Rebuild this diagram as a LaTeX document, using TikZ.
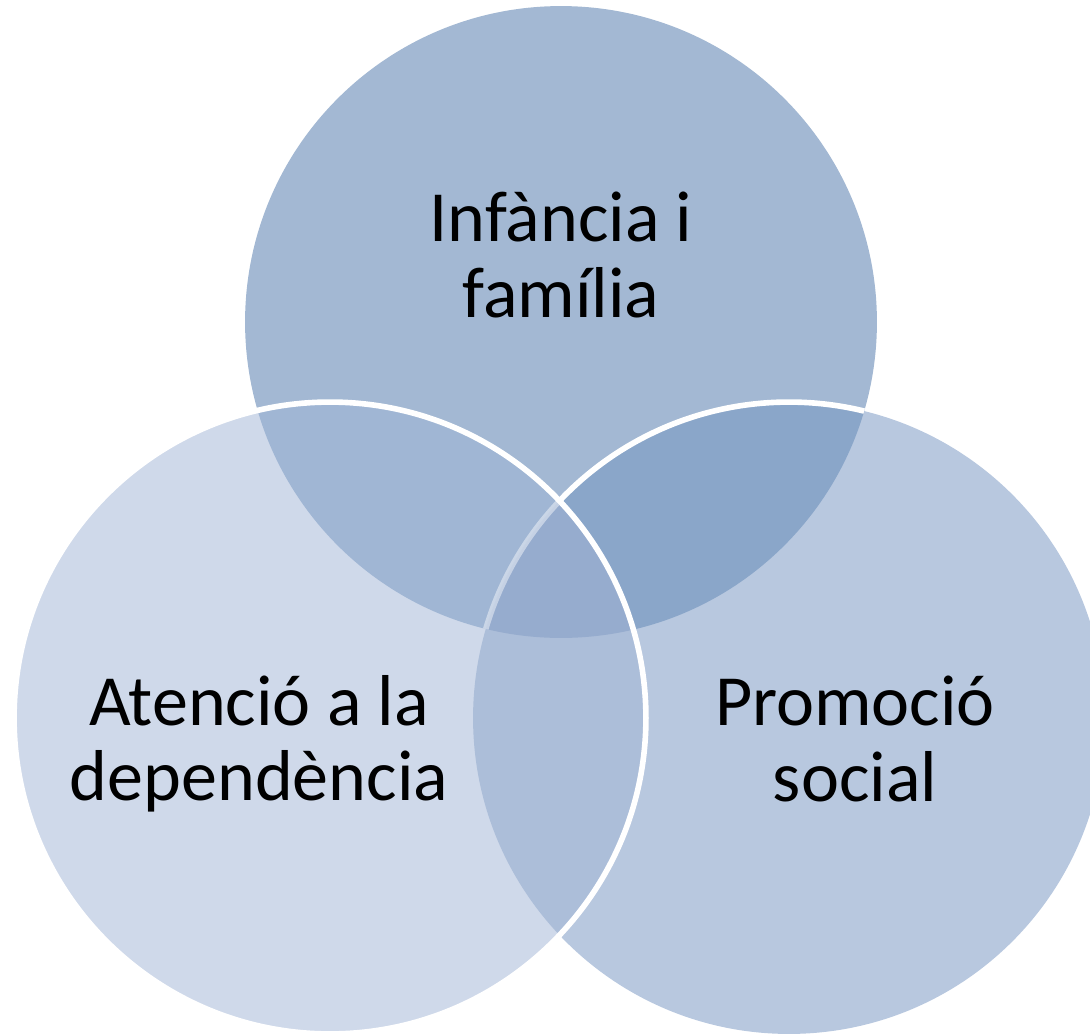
\documentclass[tikz,border=0pt]{standalone}
\usepackage{fontspec}
\setmainfont{Carlito}

\definecolor{famfill}{RGB}{163,184,211}
\definecolor{depfill}{RGB}{207,217,234}
\definecolor{profill}{RGB}{184,200,223}
\definecolor{famdep}{RGB}{160,182,212}
\definecolor{fampro}{RGB}{138,166,201}
\definecolor{deppro}{RGB}{172,190,217}
\definecolor{allthree}{RGB}{150,172,206}

\newcommand{\vrad}{6.32cm}

\begin{document}
\begin{tikzpicture}[x=0.02cm, y=-0.02cm,
    area/.style={align=center, inner sep=0pt, font=\fontsize{41}{43}\selectfont},
    rim/.style={draw=white, line width=3.2pt}]
    \useasboundingbox (0,0) rectangle (1090,1035);

    \coordinate (fam) at (561,322);
    \coordinate (dep) at (330,718);
    \coordinate (pro) at (789,718);

    % plain discs
    \fill[famfill] (fam) circle (\vrad);
    \fill[profill] (pro) circle (\vrad);
    \fill[depfill] (dep) circle (\vrad);

    % overlaps
    \begin{scope}
        \clip (fam) circle (\vrad);
        \fill[famdep] (dep) circle (\vrad);
        \fill[fampro] (pro) circle (\vrad);
    \end{scope}
    \begin{scope}
        \clip (dep) circle (\vrad);
        \fill[deppro] (pro) circle (\vrad);
        \clip (pro) circle (\vrad);
        \fill[allthree] (fam) circle (\vrad);
    \end{scope}

    % white rims
    \begin{scope}[even odd rule]
        \clip (fam) circle (\vrad);
        \clip (0,0) rectangle (1090,1035) (dep) circle (\vrad);
        \draw[rim] (pro) circle (\vrad);
    \end{scope}
    \begin{scope}
        \clip (fam) circle (\vrad);
        \clip (dep) circle (\vrad);
        \draw[rim, draw opacity=0.45] (pro) circle (\vrad);
    \end{scope}
    \draw[rim] (dep) circle (\vrad);

    \node at (561,255) (famtext) [area] {Infància i\\família};
    \node at (259,744) (deptext) [area] {Atenció a la\\dependència};
    \node at (855,739) (protext) [area] {Promoció\\social};
\end{tikzpicture}
\end{document}
